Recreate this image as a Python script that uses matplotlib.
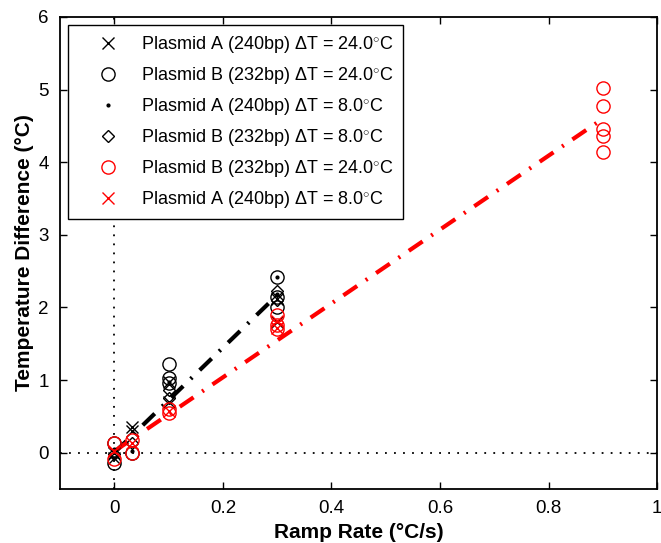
import matplotlib
matplotlib.use("Agg")
import matplotlib.pyplot as plt

plt.rcParams['font.family'] = ['Liberation Sans', 'DejaVu Sans']
plt.rcParams['mathtext.fontset'] = 'custom'
plt.rcParams['mathtext.rm'] = 'Liberation Sans'
plt.rcParams['mathtext.it'] = 'Liberation Sans'

# Data
ax_x = [0, 0, 0.033, 0.033, 0.1, 0.1, 0.3, 0.3]
ax_y = [0.0, -0.07, 0.36, 0.30, 0.97, 0.70, 2.12, 1.80]
bo_x = [0, 0, 0.033, 0.1, 0.1, 0.1, 0.3, 0.3, 0.3]
bo_y = [0.14, -0.14, 0.0, 1.22, 1.03, 0.96, 2.42, 2.15, 2.0]
ad_x = [0, 0.033, 0.1, 0.3, 0.3]
ad_y = [0.05, 0.02, 0.98, 2.42, 2.18]
bd_x = [0, 0.033, 0.1, 0.1, 0.3, 0.3]
bd_y = [-0.02, 0.13, 0.86, 0.75, 2.22, 2.10]
rc_x = [0, 0, 0.033, 0.033, 0.1, 0.1, 0.3, 0.3, 0.3, 0.9, 0.9, 0.9, 0.9, 0.9]
rc_y = [0.13, -0.08, 0.17, 0.0, 0.60, 0.55, 1.90, 1.76, 1.70, 5.02, 4.77, 4.46, 4.36, 4.14]
rx_x = [0, 0.033, 0.1, 0.3, 0.3]
rx_y = [0.02, 0.14, 0.57, 1.82, 1.72]
fitk_x = [0, 0.3]
fitk_y = [0.0, 2.17]
fitr_x = [0, 0.9]
fitr_y = [0.02, 4.60]

labels = [r'Plasmid A (240bp) $\Delta$T = 24.0$^{\circ}$C',
          r'Plasmid B (232bp) $\Delta$T = 24.0$^{\circ}$C',
          r'Plasmid A (240bp) $\Delta$T = 8.0$^{\circ}$C',
          r'Plasmid B (232bp) $\Delta$T = 8.0$^{\circ}$C',
          r'Plasmid B (232bp) $\Delta$T = 24.0$^{\circ}$C',
          r'Plasmid A (240bp) $\Delta$T = 8.0$^{\circ}$C']

fig = plt.figure(figsize=(6.61, 5.43), dpi=100)
ax = fig.add_axes([0.0908, 0.0994, 0.9035, 0.8693])

ax.axhline(0, color='black', ls=(0, (1, 4)), lw=1.3, zorder=1)
ax.axvline(0, color='black', ls=(0, (1, 4)), lw=1.3, zorder=1)

ax.plot(ax_x, ax_y, 'x', color='black', ms=8, mew=1, label=labels[0], zorder=3)
ax.plot(bo_x, bo_y, 'o', mfc='none', mec='black', ms=9.5, mew=1, label=labels[1], zorder=3)
ax.plot(ad_x, ad_y, '.', color='black', ms=4, label=labels[2], zorder=3)
ax.plot(bd_x, bd_y, 'D', mfc='none', mec='black', ms=6.5, mew=1, label=labels[3], zorder=3)
ax.plot(rc_x, rc_y, 'o', mfc='none', mec='red', ms=9.5, mew=1, label=labels[4], zorder=3)
ax.plot(rx_x, rx_y, 'x', color='red', ms=8, mew=1, label=labels[5], zorder=3)

ax.plot(fitk_x, fitk_y, color='black', lw=3, ls=(0, (4, 2.5, 0.5, 2.5)), zorder=2)
ax.plot(fitr_x, fitr_y, color='red', lw=3, ls=(0, (4, 2.5, 0.5, 2.5)), zorder=2)

ax.set_xlim(-0.1, 1)
ax.set_ylim(-0.5, 6)
ax.set_xticks([0, 0.2, 0.4, 0.6, 0.8, 1])
ax.set_xticklabels(['0', '0.2', '0.4', '0.6', '0.8', '1'])
ax.set_yticks(range(0, 7))
ax.tick_params(direction='in', top=True, right=True, labelsize=13.5, length=5, width=1, pad=8)
for s in ax.spines.values():
    s.set_linewidth(1.3)

ax.set_xlabel('Ramp Rate (°C/s)', fontsize=15, fontweight='bold', labelpad=4)
ax.set_ylabel('Temperature Difference (°C)', fontsize=15, fontweight='bold', labelpad=3)

leg = ax.legend(loc='upper left', bbox_to_anchor=(0.008, 0.99), fontsize=13,
                frameon=True, fancybox=False, edgecolor='black', framealpha=1,
                borderpad=0.5, labelspacing=0.55, handlelength=3.4, handletextpad=0.1,
                borderaxespad=0.2)
leg.get_frame().set_linewidth(1)

fig.savefig('out.png', dpi=100)
